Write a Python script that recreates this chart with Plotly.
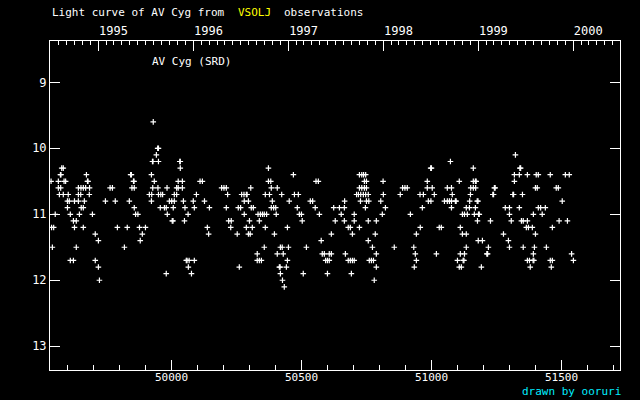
import plotly.graph_objects as go
from datetime import datetime, timedelta

# Observations: JD-2400000 grouped by visual magnitude (0.1 mag steps)
jd_m096 = [49929]
jd_m100 = [49946, 49949]
jd_m101 = [49941, 51322]
jd_m102 = [49926, 49928, 49949, 50031, 50033, 51072]
jd_m103 = [49577, 49583, 50033, 50372, 50996, 50999, 51160, 51339, 51342]
jd_m104 = [49572, 49574, 49672, 49842, 49845, 49922, 50468, 50722, 50731, 50738, 50746,
           51318, 51337, 51368, 51402, 51410, 51456, 51514, 51529]
jd_m105 = [49536, 49564, 49586, 49592, 49676, 49678, 49853, 49855, 49933, 50025, 50041,
           50109, 50118, 50372, 50381, 50555, 50564, 50741, 50749, 50813, 50983, 51106,
           51160, 51168, 51171, 51318]
jd_m106 = [49564, 49573, 49641, 49651, 49660, 49669, 49684, 49763, 49772, 49847, 49856,
           49927, 49947, 49982, 50019, 50025, 50041, 50192, 50201, 50210, 50304, 50383,
           50406, 50722, 50731, 50741, 50749, 50888, 50897, 50906, 50983, 51002, 51060,
           51076, 51150, 51160, 51169, 51241, 51244, 51399, 51406, 51479, 51487]
jd_m107 = [49568, 49583, 49602, 49641, 49650, 49683, 49914, 49923, 49949, 49958, 49965,
           50010, 50019, 50095, 50215, 50269, 50278, 50287, 50290, 50360, 50376, 50423,
           50472, 50487, 50711, 50718, 50727, 50737, 50746, 50756, 50814, 50879, 50955,
           50968, 51010, 51079, 51149, 51235, 51238, 51312, 51315, 51349]
jd_m108 = [49599, 49606, 49626, 49641, 49664, 49745, 49783, 49837, 49922, 49991, 50000,
           50010, 50045, 50083, 50126, 50279, 50295, 50387, 50452, 50533, 50542, 50665,
           50726, 50749, 50758, 50804, 50987, 50997, 51049, 51060, 51068, 51076, 51091,
           51094, 51146, 51175, 51178, 51502]
jd_m109 = [49599, 49652, 49660, 49856, 49956, 49972, 49979, 50006, 50051, 50087, 50145,
           50210, 50256, 50265, 50306, 50314, 50383, 50392, 50400, 50483, 50552, 50623,
           50645, 50664, 50745, 50822, 50964, 51076, 51133, 51145, 51168, 51283, 51299,
           51337, 51410, 51419, 51437]
jd_m110 = [49552, 49610, 49645, 49695, 49861, 49870, 49983, 50063, 50279, 50332, 50341,
           50349, 50356, 50365, 50402, 50491, 50499, 50568, 50652, 50702, 50810, 50918,
           51118, 51126, 51137, 51164, 51180, 51183, 51299, 51391, 51425]
jd_m111 = [49622, 49633, 50002, 50005, 50049, 50219, 50229, 50299, 50337, 50502, 50629,
           50664, 50702, 50756, 50787, 51176, 51226, 51306, 51345, 51352, 51368, 51490, 51522]
jd_m112 = [49538, 49546, 49626, 49660, 49791, 49829, 49876, 49899, 50137, 50227, 50287,
           50310, 50360, 50445, 50679, 50687, 50722, 50956, 51029, 51037, 51110, 51364,
           51372, 51387, 51464]
jd_m113 = [49706, 49887, 50142, 50252, 50295, 50302, 50395, 50614, 50695, 50783, 50941,
           51118, 51133, 51276, 51399]
jd_m114 = [49718, 49879, 50575, 50756, 51179, 51195, 51295]
jd_m115 = [49541, 49633, 49818, 50356, 50418, 50425, 50449, 50518, 50772, 50856, 50931,
           51133, 51218, 51299, 51352, 51395, 51441]
jd_m116 = [50329, 50406, 50429, 50579, 50587, 50606, 50614, 50668, 50787, 50937, 51018,
           51110, 51126, 51212, 51215, 51391, 51538]
jd_m117 = [49610, 49622, 49706, 50056, 50059, 50067, 50087, 50329, 50337, 50345, 50445,
           50592, 50599, 50606, 50679, 50687, 50695, 50702, 50760, 50768, 50776, 50941,
           51099, 51121, 51124, 51368, 51376, 51390, 51393, 51456, 51464, 51545]
jd_m118 = [49718, 50064, 50260, 50414, 50417, 50441, 50787, 50933, 51106, 51114, 51191,
           51379, 51460]
jd_m119 = [49979, 50076, 50418, 50506, 50599, 50691]
jd_m120 = [49722, 50426, 50779]
jd_m121 = [50433]

levels = [
    (9.6, jd_m096), (10.0, jd_m100), (10.1, jd_m101), (10.2, jd_m102), (10.3, jd_m103),
    (10.4, jd_m104), (10.5, jd_m105), (10.6, jd_m106), (10.7, jd_m107), (10.8, jd_m108),
    (10.9, jd_m109), (11.0, jd_m110), (11.1, jd_m111), (11.2, jd_m112), (11.3, jd_m113),
    (11.4, jd_m114), (11.5, jd_m115), (11.6, jd_m116), (11.7, jd_m117), (11.8, jd_m118),
    (11.9, jd_m119), (12.0, jd_m120), (12.1, jd_m121),
]

jd_ticks = [50000, 50500, 51000, 51500]
mag_ticks = [9, 10, 11, 12, 13]
years = [1995, 1996, 1997, 1998, 1999, 2000]

x_range = [49531.9, 51724.2]
y_range = [13.36, 8.374]

def jd_to_date(j):
    d = datetime(1970, 1, 1) + timedelta(days=j - 40587.5)
    return d.strftime("%Y-%m-%d %H:%M:%S")

xs, ys = [], []
for m, lst in levels:
    for j in lst:
        xs.append(j)
        ys.append(m)

FONT = "DejaVu Sans Mono"

fig = go.Figure()
fig.add_trace(go.Scatter(
    x=xs, y=ys, mode="markers",
    marker=dict(symbol="cross-thin-open", size=4, color="white",
                line=dict(color="white", width=1.2)),
    showlegend=False, hoverinfo="skip"))
# invisible trace to activate the top (calendar) axis
fig.add_trace(go.Scatter(
    x=[jd_to_date(x_range[0]), jd_to_date(x_range[1])], y=[None, None],
    xaxis="x2", yaxis="y", mode="markers", showlegend=False, hoverinfo="skip"))

fig.update_layout(
    width=640, height=400,
    margin=dict(l=50, r=20, t=41, b=30),
    paper_bgcolor="black", plot_bgcolor="black",
    font=dict(family=FONT, color="white", size=12),
    xaxis=dict(
        range=x_range, showgrid=False, zeroline=False,
        showline=True, linecolor="white", linewidth=1,
        tickmode="array", tickvals=jd_ticks, showticklabels=False,
        ticks="inside", ticklen=10, tickcolor="white", tickwidth=1,
        minor=dict(dtick=100, tick0=50000, ticks="inside", ticklen=5,
                   tickcolor="white", tickwidth=1, showgrid=False),
    ),
    xaxis2=dict(
        type="date", overlaying="x", side="top", anchor="y",
        range=[jd_to_date(x_range[0]), jd_to_date(x_range[1])],
        showgrid=False, zeroline=False,
        showline=True, linecolor="white", linewidth=1,
        tickmode="array", tickvals=[f"{y}-01-01" for y in years],
        ticktext=[str(y) for y in years],
        ticks="inside", ticklen=10, tickcolor="white", tickwidth=1,
        minor=dict(dtick="M1", tick0="1995-01-01", ticks="inside", ticklen=4,
                   tickcolor="white", tickwidth=1, showgrid=False),
        ticklabelshift=15,
        tickfont=dict(family=FONT, size=12, color="white"),
    ),
    yaxis=dict(
        range=y_range, showgrid=False, zeroline=False,
        showline=True, linecolor="white", linewidth=1, mirror="ticks",
        tickmode="array", tickvals=mag_ticks, ticktext=[str(t) for t in mag_ticks],
        ticks="inside", ticklen=10, tickcolor="white", tickwidth=1,
        tickfont=dict(family=FONT, size=12, color="white"),
    ),
)

def px_x(p):
    return (p - 50) / 570.0

def px_y(p):
    return (370 - p) / 329.0

# bottom JD tick labels, placed on the data x-axis just below the frame
for t in jd_ticks:
    fig.add_annotation(text=str(t), xref="x", yref="paper", x=t, y=px_y(377.5),
                       xanchor="center", yanchor="middle", showarrow=False,
                       font=dict(family=FONT, size=11, color="white"))

ann = [
    ("Light curve of AV Cyg from", 50, 12, "white"),
    ("VSOLJ", 236, 12, "#ffff00"),
    ("observations", 282, 12, "white"),
    ("AV Cyg (SRD)", 150, 61, "white"),
    ("drawn by ooruri", 520, 391, "#00eeff"),
]
for text, px, py, col in ann:
    fig.add_annotation(text=text, xref="paper", yref="paper",
                       x=px_x(px), y=px_y(py), xanchor="left", yanchor="middle",
                       showarrow=False, font=dict(family=FONT, size=11, color=col))

fig.write_html("out.html", config={"displayModeBar": False},
               post_script="document.body.style.margin='0';document.body.style.padding='0';document.body.style.overflow='hidden';")
